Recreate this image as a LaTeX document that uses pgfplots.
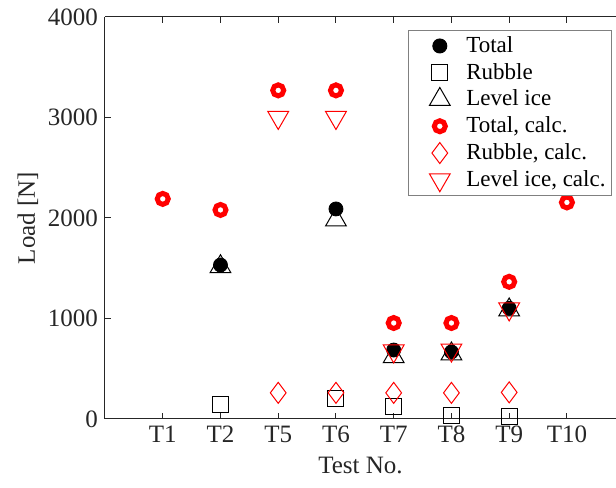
\documentclass[border=0pt]{standalone}
\usepackage{fontspec}
\setmainfont{Liberation Serif}
\usepackage{pgfplots}
\pgfplotsset{compat=1.18}
\definecolor{axgray}{gray}{0.15}
\begin{document}
\begin{tikzpicture}
\begin{axis}[
  width=255.5pt, height=201pt, scale only axis,
  xmin=-1, xmax=7.85, ymin=0, ymax=4000,
  xtick={0,...,7}, xticklabels={T1,T2,T5,T6,T7,T8,T9,T10},
  ytick={0,1000,...,4000},
  axis x line*=box, axis y line*=left,
  axis line style={axgray, line width=0.5pt},
  tick align=inside, major tick length=3pt,
  tick style={axgray, line width=0.5pt},
  scaled y ticks=false,
  /pgf/number format/1000 sep={},
  /pgf/number format/assume math mode=true,
  tick label style={font=\fontsize{12.5}{14}\selectfont, text=axgray},
  label style={font=\fontsize{12.5}{14}\selectfont, text=axgray},
  xlabel={Test No.}, ylabel={Load [N]},
  ylabel style={yshift=-2pt},
  legend style={at={(rel axis cs:1,1)}, anchor=north east, xshift=-2pt, yshift=-6.5pt,
    draw=gray, line width=0.5pt, font=\fontsize{11.5}{13.5}\selectfont, inner sep=1pt,
    row sep=-0.1pt},
  legend cell align=left,
  legend image code/.code={\path (0pt,0pt) (25.5pt,0pt); \draw[#1] plot coordinates {(14.5pt,0pt)};},
]
\coordinate (bl) at (rel axis cs:0,0);
\coordinate (tr) at (rel axis cs:1,1);
\addplot[only marks, mark=*, mark size=3.5pt, black] coordinates {(1,1532)(3,2090)(4,686)(5,667)(6,1101)};
\addlegendentry{Total}
\addplot[only marks, mark=square, mark size=4pt, black, line width=0.5pt] coordinates {(1,140)(3,200)(4,120)(5,30)(6,25)};
\addlegendentry{Rubble}
\addplot[only marks, mark=triangle, mark size=6pt, black, line width=0.5pt] coordinates {(1,1515)(3,1980)(4,620)(5,647)(6,1085)};
\addlegendentry{Level ice}
\addplot[only marks, mark=o, mark size=2.75pt, red, mark options={line width=2.5pt}] coordinates {(0,2190)(1,2080)(2,3270)(3,3270)(4,955)(5,955)(6,1365)(7,2155)};
\addlegendentry{Total, calc.}
\addplot[only marks, mark=diamond, mark size=5.25pt, red, line width=0.5pt] coordinates {(2,260)(3,260)(4,260)(5,260)(6,265)};
\addlegendentry{Rubble, calc.}
\addplot[only marks, mark=triangle, mark size=6pt, red, line width=0.5pt, mark options={rotate=180}] coordinates {(2,3000)(3,3000)(4,677)(5,686)(6,1095)};
\addlegendentry{Level ice, calc.}
\end{axis}
\pgfresetboundingbox
\path ([xshift=-52.5pt,yshift=-34.5pt]bl) rectangle ([yshift=8.5pt]tr);
\end{tikzpicture}
\end{document}
